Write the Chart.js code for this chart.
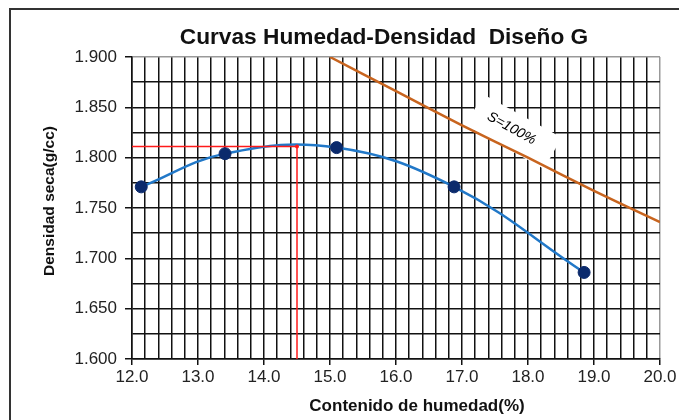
<!DOCTYPE html>
<html lang="es">
<head>
    <meta charset="UTF-8">
    <title>Curvas Humedad-Densidad Diseño G</title>
    <script src="https://cdn.jsdelivr.net/npm/chart.js"></script>
    <style>
        body {
            margin: 0;
            background: #fff;
            font-family: "Liberation Sans", Arial, sans-serif;
        }
        .wrap {
            position: relative;
            width: 679px;
            height: 420px;
            overflow: hidden;
        }
        .frame {
            position: absolute;
            left: 9px;
            top: 8px;
            width: 700px;
            height: 440px;
            border-left: 2px solid #333;
            border-top: 2px solid #333;
        }
        canvas {
            position: absolute;
            left: 0;
            top: 0;
        }
    </style>
</head>
<body>
<div class="wrap">
    <div class="frame"></div>
    <canvas id="chart" width="679" height="420"></canvas>
</div>

<script>
// ensayo Proctor: humedad (%) vs densidad seca (g/cc)
const humedad = [12.14, 13.41, 15.10, 16.88, 18.85];
const densidad = [1.771, 1.804, 1.810, 1.771, 1.686];

// curva de saturacion S=100%
const satHumedad = [15.0, 16.0, 17.0, 18.0, 19.0, 20.0];
const satDensidad = [1.900, 1.866, 1.832, 1.800, 1.767, 1.736];

// humedad optima / densidad maxima (lineas rojas)
const optHumedad = [12.0, 14.5, 14.5];
const optDensidad = [1.811, 1.811, 1.600];

const xTitle = 'Contenido de humedad(%)';
const yTitle = 'Densidad seca(g/cc)';
const mainTitle = 'Curvas Humedad-Densidad  Diseño G';
const satLabel = 'S=100%';

const toPts = (xs, ys) => xs.map((x, i) => ({ x: x, y: ys[i] }));

const FONT = '"Liberation Sans", Arial, sans-serif';
const GRID = '#111';

const isLabelX = v => Math.abs(v - Math.round(v)) < 1e-6;
const isLabelY = v => Math.round(v * 1000) % 50 === 0;

// white box behind the S=100% label, then label and titles on top
const decor = {
    id: 'decor',
    beforeDatasetsDraw(chart) {
        const c = chart.ctx;
        const x = chart.scales.x, y = chart.scales.y;
        const cx = x.getPixelForValue(17.78), cy = y.getPixelForValue(1.826);
        c.save();
        c.translate(cx, cy);
        c.rotate(29 * Math.PI / 180);
        c.fillStyle = '#fff';
        c.fillRect(-45, -18, 90, 36);
        c.restore();
    },
    afterDraw(chart) {
        const c = chart.ctx;
        const x = chart.scales.x, y = chart.scales.y;
        c.save();
        // S=100% label
        c.save();
        c.translate(x.getPixelForValue(17.75), y.getPixelForValue(1.829));
        c.rotate(29 * Math.PI / 180);
        c.font = 'italic 14px ' + FONT;
        c.fillStyle = '#000';
        c.textAlign = 'center';
        c.textBaseline = 'middle';
        c.fillText(satLabel, 0, 0);
        c.restore();

        c.fillStyle = '#111';
        c.textAlign = 'center';
        c.textBaseline = 'middle';
        c.font = 'bold 22.7px ' + FONT;
        c.fillText(mainTitle, 384, 38);

        c.font = 'bold 17px ' + FONT;
        c.fillText(xTitle, 417, 406);

        c.save();
        c.translate(50, 201);
        c.rotate(-Math.PI / 2);
        c.font = 'bold 15.5px ' + FONT;
        c.fillText(yTitle, 0, 0);
        c.restore();
        c.restore();
    }
};

new Chart(document.getElementById('chart'), {
    type: 'scatter',
    data: {
        datasets: [
            {
                data: toPts(optHumedad, optDensidad),
                showLine: true,
                borderColor: '#ff1a1a',
                borderWidth: 1.5,
                pointRadius: [0, 2, 0],
                pointBackgroundColor: '#ff1a1a',
                pointBorderWidth: 0,
                tension: 0
            },
            {
                data: toPts(satHumedad, satDensidad),
                showLine: true,
                borderColor: '#c8641e',
                borderWidth: 2.5,
                pointRadius: 0,
                tension: 0.2
            },
            {
                data: toPts(humedad, densidad),
                showLine: true,
                borderColor: '#2178c8',
                borderWidth: 2.5,
                pointRadius: 6,
                pointBackgroundColor: '#0b2a6c',
                pointBorderColor: '#0b2a6c',
                pointBorderWidth: 1,
                tension: 0.4
            }
        ]
    },
    options: {
        responsive: false,
        animation: false,
        layout: { padding: { left: 0, right: 19, top: 57, bottom: 0 } },
        plugins: {
            legend: { display: false },
            tooltip: { enabled: false }
        },
        scales: {
            x: {
                type: 'linear',
                min: 12,
                max: 20,
                afterFit: s => { s.height = 61; },
                ticks: {
                    stepSize: 0.2,
                    autoSkip: false,
                    maxRotation: 0,
                    padding: 2,
                    color: '#222',
                    font: { family: FONT, size: 17 },
                    callback: v => isLabelX(v) ? v.toFixed(1) : ''
                },
                grid: {
                    color: ctx => ctx.tick && ctx.tick.value >= 19.99 ? '#999' : GRID,
                    lineWidth: 1.5,
                    tickLength: 6,
                    tickColor: ctx => ctx.tick && isLabelX(ctx.tick.value) ? GRID : 'rgba(0,0,0,0)'
                },
                border: { color: GRID, width: 1.5 }
            },
            y: {
                min: 1.6,
                max: 1.9,
                afterFit: s => { s.width = 132; },
                ticks: {
                    stepSize: 0.025,
                    autoSkip: false,
                    padding: 8,
                    color: '#222',
                    font: { family: FONT, size: 17 },
                    callback: v => isLabelY(v) ? v.toFixed(3) : ''
                },
                grid: {
                    color: ctx => ctx.tick && ctx.tick.value >= 1.899 ? '#999' : GRID,
                    lineWidth: 1.5,
                    tickLength: 7,
                    tickColor: ctx => ctx.tick && isLabelY(ctx.tick.value) ? GRID : 'rgba(0,0,0,0)'
                },
                border: { color: GRID, width: 1.5 }
            }
        }
    },
    plugins: [decor]
});
</script>
</body>
</html>
